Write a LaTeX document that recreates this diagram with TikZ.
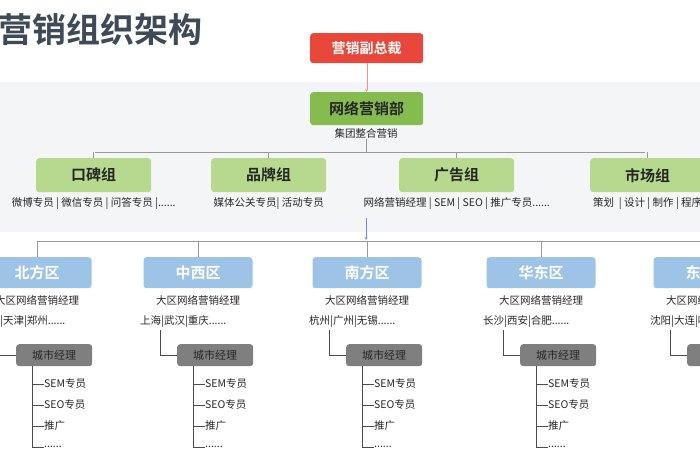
\documentclass[tikz,border=0pt]{standalone}
\usepackage{fontspec}
\setmainfont{Noto Sans CJK SC}
\newfontfamily\cjkb{Noto Sans CJK SC Bold}
\newcommand\mysixdots{......}
\begin{document}
\begin{tikzpicture}[x=1pt,y=-1pt,
  every node/.style={inner sep=0pt},
  box/.style={rounded corners=3pt,minimum height=#1,anchor=north west},
  small/.style={font=\fontsize{10.5}{12}\selectfont,text=black!85},
  conn/.style={draw=gray!80,line width=0.9pt},
  tree/.style={draw=black!70,line width=0.8pt}]
\definecolor{vpred}{HTML}{E8473A}
\definecolor{dgreen}{HTML}{86BC4E}
\definecolor{lgreen}{HTML}{B7D98E}
\definecolor{lblue}{HTML}{9DC3E6}
\definecolor{cgray}{HTML}{7F7F7F}
\definecolor{band}{HTML}{F4F5F7}
\definecolor{titlec}{HTML}{3E4A57}
\useasboundingbox (0,0) rectangle (700,470);
\clip (0,0) rectangle (700,470);
\fill[band] (0,82) rectangle (700,232);
\node[anchor=west,font=\cjkb\fontsize{34}{36}\selectfont,text=titlec] (title) at (-2,30) {营销组织架构};
\node[box=30pt,minimum width=113pt,fill=vpred,text=white,font=\cjkb\fontsize{14}{16}\selectfont] (vp) at (310,33) {营销副总裁};
\node[box=33pt,minimum width=113pt,fill=dgreen,text=black!85,font=\cjkb\fontsize{15}{17}\selectfont] (net) at (310,92) {网络营销部};
\draw[-stealth,draw=vpred!60] (vp.south) -- (net.north);
\node[small] (netsub) at (366,134) {集团整合营销};
\coordinate (hb) at (366,152);
\draw[conn] (netsub.south) -- (hb);
\draw[conn] (95,152) -- (645,152);
\foreach \n/\xl/\t/\s in {g1/36/口碑组/{微博专员 | 微信专员 | 问答专员 |\mysixdots},
  g2/211/品牌组/{媒体公关专员| 活动专员},
  g3/399/广告组/{网络营销经理 | SEM | SEO | 推广专员\mysixdots},
  g4/590/市场组/{策划 \ | 设计 | 制作 | 程序}}{
  \node[box=34pt,minimum width=115pt,fill=lgreen,text=black!85,font=\cjkb\fontsize{15}{17}\selectfont] (\n) at (\xl,158) {\t};
  \draw[conn] (\n.north) -- (\n.north |- hb);
  \node[small] (\n s) at ([yshift=-11pt]\n.south) {\s};
}
\coordinate (ba) at (366,218);
\coordinate (bb) at (366,240);
\draw[-stealth,draw=lblue!70!blue] (ba) -- (bb);
\draw[conn] (37,241) -- (700,241);
\foreach \n/\c/\t/\cities in {r1/37/北方区/{北京|天津|郑州\mysixdots},
  r2/198/中西区/{上海|武汉|重庆\mysixdots},
  r3/367/南方区/{杭州|广州|无锡\mysixdots},
  r4/541/华东区/{长沙|西安|合肥\mysixdots},
  r5/708/东北区/{沈阳|大连|哈尔滨\mysixdots}}{
  \node[box=31pt,minimum width=109pt,anchor=north,fill=lblue,text=white,font=\cjkb\fontsize{15}{17}\selectfont] (\n) at (\c,257) {\t};
  \draw[conn] (\n.north) -- (\c,241);
  \node[small] (\n m) at (\c,300) {大区网络营销经理};
  \node[small,anchor=west] (\n c) at (\c-58,322) {\cities};
  \node[box=22pt,minimum width=76pt,fill=cgray,text=black!85,font=\fontsize{11}{13}\selectfont] (\n g) at (\c-21,344) {城市经理};
  \draw[tree] (\c-38,330) |- (\n g.west);
  \foreach \i/\y/\it in {1/384/SEM专员,2/405/SEO专员,3/426/推广,4/447/\mysixdots}{
    \node[small,anchor=west] (\n i\i) at (\c+7,\y) {\it};
    \draw[tree] (\c-5,\y) -- (\n i\i.west);
  }
  \draw[tree] (\c-5,366) -- (\c-5,447);
}
\end{tikzpicture}
\end{document}
